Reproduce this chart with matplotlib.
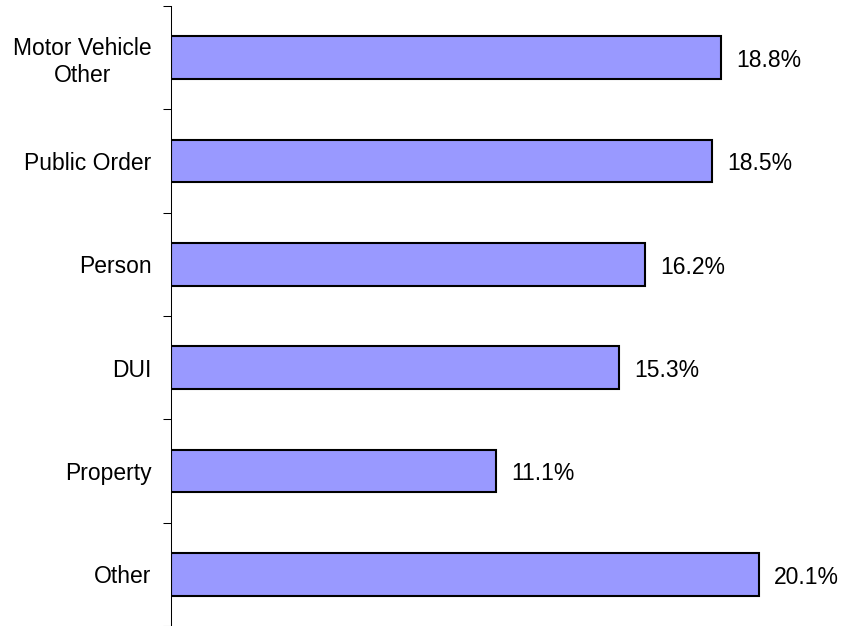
import numpy as np
import matplotlib.pyplot as plt

# ==========================================
# DADOS
# ==========================================

categorias = ["Motor Vehicle\nOther", "Public Order", "Person", "DUI", "Property", "Other"]
valores = [18.8, 18.5, 16.2, 15.3, 11.1, 20.1]
rotulos = ["18.8%", "18.5%", "16.2%", "15.3%", "11.1%", "20.1%"]

plt.rcParams["font.family"] = ["Liberation Sans", "DejaVu Sans"]

# ==========================================
# GRÁFICO
# ==========================================

fig = plt.figure(figsize=(8.42, 6.26), dpi=100)
ax = fig.add_axes([171 / 842, 0, 1 - 171 / 842, 1 - 6 / 626])

pos = np.arange(len(categorias))
barras = ax.barh(pos, valores, height=0.41, color="#9999FF",
                 edgecolor="black", linewidth=1.5)

for b, txt in zip(barras, rotulos):
    ax.annotate(txt, (b.get_width(), b.get_y() + b.get_height() / 2),
                xytext=(11, -2), textcoords="offset points",
                va="center", ha="left", fontsize=16.5)

ax.set_ylim(len(categorias) - 0.5, -0.5)
ax.set_xlim(0, (842 - 171) / 29.25)

ax.set_yticks(np.arange(len(categorias) + 1) - 0.5)
ax.set_yticklabels([])
ax.set_yticks(pos, minor=True)
ax.set_yticklabels(categorias, minor=True, fontsize=16.5)
ax.tick_params(axis="y", which="major", length=6, width=0.75, direction="out")
ax.tick_params(axis="y", which="minor", length=0, pad=14)

for lbl in ax.get_yticklabels(minor=True):
    lbl.set_ha("right")
    lbl.set_multialignment("center")

ax.set_xticks([])
for lado in ["top", "right", "bottom"]:
    ax.spines[lado].set_visible(False)
ax.spines["left"].set_linewidth(0.75)

plt.savefig("out.png", dpi=100)
plt.close()
